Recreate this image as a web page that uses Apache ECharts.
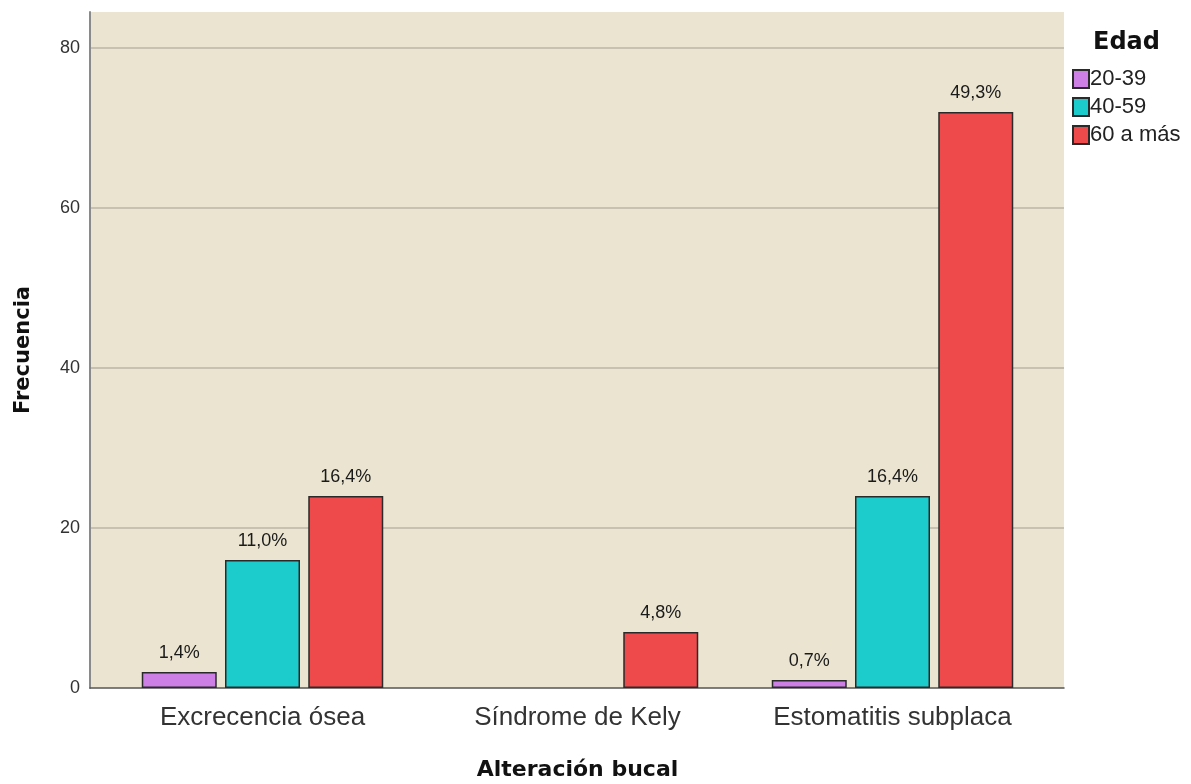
<!DOCTYPE html>
<html>
<head>
<meta charset="utf-8">
<script src="https://cdn.jsdelivr.net/npm/echarts@6/dist/echarts.min.js"></script>
<style>
  html, body { margin: 0; padding: 0; background: #ffffff; }
  #chart { width: 1191px; height: 784px; }
</style>
</head>
<body>
<div id="chart"></div>
<script>
// Alteración bucal por grupo de edad (frecuencias y porcentaje del total)
const categories = ['Excrecencia ósea', 'Síndrome de Kely', 'Estomatitis subplaca'];
const ageGroups = ['20-39', '40-59', '60 a más'];
const counts2039 = [2, 0, 1];
const counts4059 = [16, 0, 24];
const counts60 = [24, 7, 72];
const pct2039 = ['1,4%', null, '0,7%'];
const pct4059 = ['11,0%', null, '16,4%'];
const pct60 = ['16,4%', '4,8%', '49,3%'];
const yTicks = [0, 20, 40, 60, 80];

const colors = ['#cd7fe5', '#1ccccc', '#ee4a4b'];
const FONT = '"Liberation Sans", Arial, sans-serif';
const FONT_BOLD = '"DejaVu Sans", sans-serif';
const Y_MAX = 84.5;

function makeSeries(name, counts, pcts, color) {
  return {
    name: name,
    type: 'bar',
    xAxisIndex: 1,
    yAxisIndex: 1,
    barWidth: 75,
    barGap: '11%',
    data: counts.map((v, i) => ({
      value: v === 0 ? '-' : v,
      label: { formatter: pcts[i] || '' }
    })),
    itemStyle: { color: color, borderColor: '#2a2a2a', borderWidth: 1.5 },
    label: {
      show: true,
      position: 'top',
      distance: 10,
      fontFamily: FONT,
      fontSize: 18,
      color: '#1a1a1a'
    }
  };
}

const chart = echarts.init(document.getElementById('chart'), null, { renderer: 'canvas' });
chart.setOption({
  animation: false,
  backgroundColor: '#ffffff',
  title: {
    text: 'Edad',
    left: 1088,
    top: 26,
    textStyle: { fontFamily: FONT_BOLD, fontSize: 24, fontWeight: 'bold', color: '#111' }
  },
  legend: {
    data: ageGroups,
    orient: 'vertical',
    left: 1067,
    top: 63,
    itemWidth: 16,
    itemHeight: 18,
    itemGap: 6,
    icon: 'rect',
    textStyle: { fontFamily: FONT, fontSize: 22, color: '#222', padding: [0, 0, 0, -4] }
  },
  grid: [
    { left: 90, right: 127, top: 12, bottom: 96, outerBoundsMode: 'none', containLabel: false,
      show: true, backgroundColor: '#eae4d0', borderWidth: 0 },
    { left: 105, right: 141, top: 12, bottom: 96, outerBoundsMode: 'none', containLabel: false }
  ],
  xAxis: [
    {
      gridIndex: 0,
      type: 'value',
      min: 0,
      max: 1,
      axisLine: { show: true, onZero: false, lineStyle: { color: '#555', width: 1.5 } },
      axisTick: { show: false },
      axisLabel: { show: false },
      splitLine: { show: false }
    },
    {
      gridIndex: 1,
      type: 'category',
      data: categories,
      axisLine: { show: false },
      axisTick: { show: false },
      axisLabel: { fontFamily: FONT, fontSize: 26, color: '#333', margin: 17 },
      name: 'Alteración bucal',
      nameLocation: 'middle',
      nameGap: 71,
      nameTextStyle: { fontFamily: FONT_BOLD, fontSize: 22, fontWeight: 'bold', color: '#111' }
    }
  ],
  yAxis: [
    {
      gridIndex: 0,
      type: 'value',
      min: 0,
      max: Y_MAX,
      interval: 20,
      axisLine: { show: true, lineStyle: { color: '#8a8a8a', width: 2 } },
      axisTick: { show: false },
      axisLabel: {
        fontFamily: FONT, fontSize: 18, color: '#333', margin: 10,
        formatter: v => (yTicks.includes(v) ? String(v) : '')
      },
      splitLine: { show: true, showMinLine: false, showMaxLine: false, lineStyle: { color: '#c8c1b1', width: 2 } },
      name: 'Frecuencia',
      nameLocation: 'middle',
      nameGap: 56,
      nameTextStyle: { fontFamily: FONT_BOLD, fontSize: 21, fontWeight: 'bold', color: '#111' }
    },
    {
      gridIndex: 1,
      type: 'value',
      min: 0,
      max: Y_MAX,
      show: false,
      splitLine: { show: false }
    }
  ],
  series: [
    makeSeries(ageGroups[0], counts2039, pct2039, colors[0]),
    makeSeries(ageGroups[1], counts4059, pct4059, colors[1]),
    makeSeries(ageGroups[2], counts60, pct60, colors[2])
  ]
});
</script>
</body>
</html>
